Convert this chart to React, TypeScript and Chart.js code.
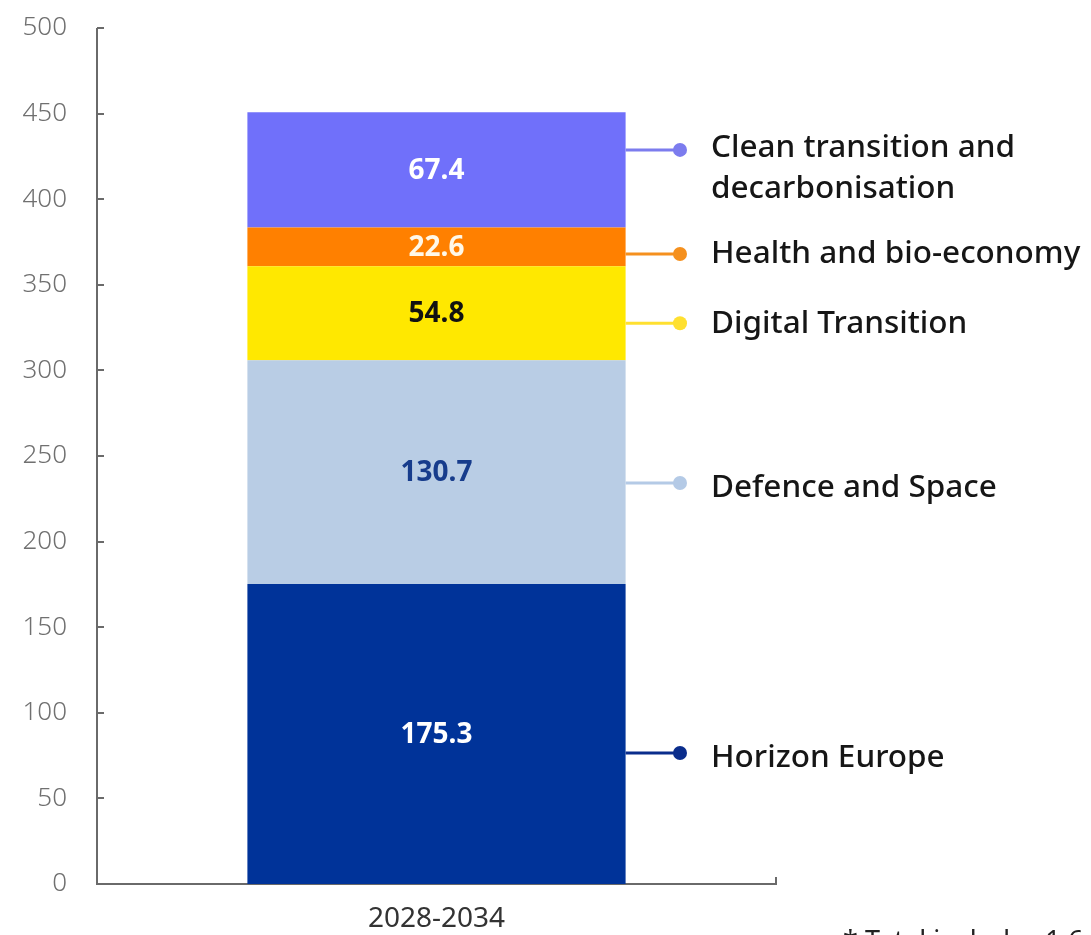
import React, { useEffect, useRef } from "react";
import { Chart, registerables } from "chart.js";

Chart.register(...registerables);

const categories = ["2028-2034"];
const seriesNames = [
  "Horizon Europe",
  "Defence and Space",
  "Digital Transition",
  "Health and bio-economy",
  "Clean transition and decarbonisation",
];
const horizonEurope = [175.3];
const defenceSpace = [130.7];
const digitalTransition = [54.8];
const healthBio = [22.6];
const cleanTransition = [67.4];
const yTicks = [0, 50, 100, 150, 200, 250, 300, 350, 400, 450, 500];
const footnote = "* Total includes 1.6 billion";

const seriesValues = [horizonEurope, defenceSpace, digitalTransition, healthBio, cleanTransition];
const fillColors = ["#003399", "#B9CDE5", "#FFE800", "#FF8000", "#7070FA"];
const lineColors = ["#0A2D8C", "#B4CAE6", "#FFE030", "#F5901E", "#7C7CEE"];
const valueLabelColors = ["#FFFFFF", "#173C8C", "#111111", "#FFF8E8", "#FFFFFF"];
const legendLines: string[][] = [
  ["Horizon Europe"],
  ["Defence and Space"],
  ["Digital Transition"],
  ["Health and bio-economy"],
  ["Clean transition and", "decarbonisation"],
];
// pixel offsets of the callout line from the segment centre
const calloutOffsets = [19, 11, 10, 7, -20];
// baseline offset of the first legend line from its callout line
const baselineOffsets = [14, 14, 10, 9, 7];

const AXIS_COLOR = "#6a6a6a";
const FONT = "'Noto Sans', sans-serif";

const decorPlugin = {
  id: "decor",
  beforeDatasetsDraw(chart: any) {
    const { ctx, chartArea, scales } = chart;
    const y = scales.y;
    ctx.save();
    ctx.strokeStyle = AXIS_COLOR;
    ctx.lineWidth = 2;
    ctx.beginPath();
    ctx.moveTo(chartArea.left, chartArea.top);
    ctx.lineTo(chartArea.left, chartArea.bottom);
    ctx.lineTo(chartArea.right, chartArea.bottom);
    ctx.lineTo(chartArea.right, chartArea.bottom - 7);
    ctx.stroke();
    for (const v of yTicks) {
      const py = Math.round(y.getPixelForValue(v));
      ctx.beginPath();
      ctx.moveTo(chartArea.left, py);
      ctx.lineTo(chartArea.left + 7, py);
      ctx.stroke();
    }
    ctx.restore();
  },
  afterDatasetsDraw(chart: any) {
    const { ctx } = chart;
    ctx.save();
    chart.data.datasets.forEach((ds: any, i: number) => {
      const meta = chart.getDatasetMeta(i);
      const bar: any = meta.data[0];
      if (!bar) return;
      const cy = (bar.y + bar.base) / 2;
      const right = bar.x + bar.width / 2;
      // value label
      ctx.fillStyle = valueLabelColors[i];
      ctx.font = `bold 28px ${FONT}`;
      ctx.textAlign = "center";
      ctx.textBaseline = "middle";
      ctx.fillText(ds.data[0].toFixed(1), bar.x, cy + 1);
      // callout
      const ly = cy + calloutOffsets[i];
      ctx.strokeStyle = lineColors[i];
      ctx.lineWidth = 3;
      ctx.beginPath();
      ctx.moveTo(right, ly);
      ctx.lineTo(680, ly);
      ctx.stroke();
      ctx.fillStyle = lineColors[i];
      ctx.beginPath();
      ctx.arc(680, ly, 7, 0, Math.PI * 2);
      ctx.fill();
      // legend text
      ctx.fillStyle = "#161616";
      ctx.font = `500 31.5px ${FONT}`;
      ctx.textAlign = "left";
      ctx.textBaseline = "alphabetic";
      legendLines[i].forEach((t, k) => {
        ctx.fillText(t, 711, ly + baselineOffsets[i] + k * 41);
      });
    });
    // footnote (partly outside the picture, as in the source)
    ctx.fillStyle = "#222222";
    ctx.font = `27px ${FONT}`;
    ctx.textAlign = "left";
    ctx.textBaseline = "top";
    ctx.fillText(footnote, 843, 929);
    ctx.restore();
  },
};

export default function App() {
  const ref = useRef<HTMLCanvasElement | null>(null);
  useEffect(() => {
    if (!ref.current) return;
    const chart = new Chart(ref.current, {
      type: "bar",
      data: {
        labels: categories,
        datasets: seriesValues.map((vals, i) => ({
          label: seriesNames[i],
          data: vals,
          backgroundColor: fillColors[i],
          borderWidth: 0,
          barPercentage: 0.557,
          categoryPercentage: 1,
        })),
      },
      options: {
        animation: false,
        responsive: false,
        maintainAspectRatio: false,
        layout: { padding: { top: 28, right: 315, bottom: 0, left: 0 } },
        plugins: { legend: { display: false }, tooltip: { enabled: false } },
        scales: {
          x: {
            stacked: true,
            grid: { display: false, drawTicks: false },
            border: { display: false },
            ticks: {
              color: "#333333",
              font: { family: FONT, size: 28 },
              padding: 18,
            },
            afterFit: (s: any) => {
              s.height = 51;
              s.paddingLeft = 0;
              s.paddingRight = 0;
            },
          },
          y: {
            stacked: true,
            min: 0,
            max: 500,
            grid: { display: false, drawTicks: false },
            border: { display: false },
            ticks: {
              stepSize: 50,
              color: "#707070",
              font: { family: FONT, size: 26, weight: "300" as any },
              padding: 30,
            },
            afterFit: (s: any) => {
              s.width = 97;
              s.paddingTop = 0;
              s.paddingBottom = 0;
            },
          },
        },
      },
      plugins: [decorPlugin],
    });
    return () => chart.destroy();
  }, []);
  return (
    <div style={{ position: "fixed", left: 0, top: 0, width: 1091, height: 935, background: "#fff" }}>
      <canvas ref={ref} width={1091} height={935} style={{ display: "block" }} />
    </div>
  );
}
